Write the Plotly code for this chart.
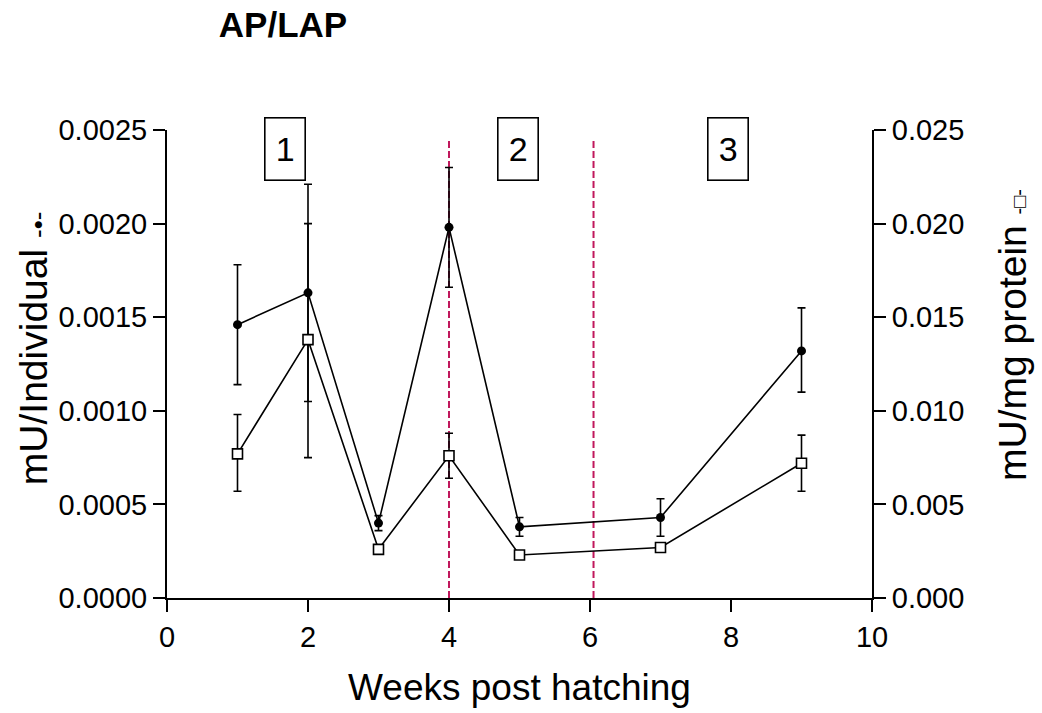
import plotly.graph_objects as go

weeks = [1, 2, 3, 4, 5, 7, 9]
per_individual = [0.00146, 0.00163, 0.00040, 0.00198, 0.00038, 0.00043, 0.00132]
per_individual_err_hi = [0.00032, 0.00058, 0.00004, 0.00032, 0.00005, 0.00010, 0.00023]
per_individual_err_lo = [0.00032, 0.00058, 0.00004, 0.00032, 0.00005, 0.00010, 0.00022]
per_protein = [0.0077, 0.0138, 0.0026, 0.0076, 0.0023, 0.0027, 0.0072]
per_protein_err_hi = [0.0021, 0.0062, 0.0, 0.0012, 0.0, 0.0, 0.0015]
per_protein_err_lo = [0.0020, 0.0063, 0.0, 0.0012, 0.0, 0.0, 0.0015]
phase_bounds = [4, 6.05]
phase_labels = ["1", "2", "3"]
phase_label_x = [1.67, 4.98, 7.96]

FONT = "Liberation Sans, Arial, sans-serif"
fig = go.Figure()

for xb in phase_bounds:
    fig.add_trace(go.Scatter(x=[xb, xb], y=[0, 0.00245], mode="lines",
                             line=dict(color="#c0185c", width=2, dash="7px,3px"),
                             showlegend=False, hoverinfo="skip"))

fig.add_trace(go.Scatter(
    x=weeks, y=per_protein, yaxis="y2", mode="lines+markers",
    line=dict(color="black", width=1.6),
    marker=dict(symbol="square", size=10, color="white", line=dict(color="black", width=1.6)),
    error_y=dict(type="data", symmetric=False, array=per_protein_err_hi,
                 arrayminus=per_protein_err_lo, color="black", thickness=1.6, width=4),
    showlegend=False))

fig.add_trace(go.Scatter(
    x=weeks, y=per_individual, mode="lines+markers",
    line=dict(color="black", width=1.6),
    marker=dict(symbol="circle", size=9, color="black"),
    error_y=dict(type="data", symmetric=False, array=per_individual_err_hi,
                 arrayminus=per_individual_err_lo, color="black", thickness=1.6, width=4),
    showlegend=False))

for lx, lt in zip(phase_label_x, phase_labels):
    fig.add_annotation(x=lx, y=0.002401, xref="x", yref="y", text=lt, showarrow=False,
                       font=dict(family=FONT, size=34, color="black"),
                       bordercolor="black", borderwidth=1.6, bgcolor="white",
                       width=35, height=57, borderpad=2)

# y-axis titles as rotated annotations for exact placement
fig.add_annotation(x=-0.19, y=0.534, xref="paper", yref="paper", textangle=-90,
                   xanchor="center", yanchor="middle",
                   text="mU/Individual <span style='font-size:26px'>-•-</span>", showarrow=False,
                   font=dict(family=FONT, size=39, color="black"))
fig.add_annotation(x=1.2, y=0.562, xref="paper", yref="paper", textangle=-90,
                   xanchor="center", yanchor="middle",
                   text="mU/mg protein <span style='font-size:20px'>-□-</span>", showarrow=False,
                   font=dict(family=FONT, size=39, color="black"))

fig.update_layout(
    width=1042, height=713,
    margin=dict(l=167, r=170, t=130, b=115),
    paper_bgcolor="white", plot_bgcolor="white",
    font=dict(family=FONT, color="black"),
    title=dict(text="<b>AP/LAP</b>", x=0.21, xanchor="left", y=0.965, yanchor="middle",
               font=dict(family=FONT, size=35, color="black")),
    xaxis=dict(range=[0, 10], tickvals=[0, 2, 4, 6, 8, 10], showline=True, linecolor="black",
               linewidth=2, ticks="outside", ticklen=12, tickwidth=2, tickcolor="black",
               showgrid=False, zeroline=False, tickfont=dict(size=29),
               title=dict(text="Weeks post hatching", font=dict(size=37), standoff=22)),
    yaxis=dict(range=[0, 0.0025], tickvals=[0, 0.0005, 0.001, 0.0015, 0.002, 0.0025],
               tickformat=".4f", showline=True, linecolor="black", linewidth=2,
               ticks="outside", ticklen=12, tickwidth=2, tickcolor="black",
               showgrid=False, zeroline=False, tickfont=dict(size=29)),
    yaxis2=dict(range=[0, 0.025], tickvals=[0, 0.005, 0.01, 0.015, 0.02, 0.025],
                tickformat=".3f", overlaying="y", side="right", showline=True,
                linecolor="black", linewidth=2, ticks="outside", ticklen=12, tickwidth=2,
                tickcolor="black", showgrid=False, zeroline=False, tickfont=dict(size=29)),
)

fig.write_html("out.html")
